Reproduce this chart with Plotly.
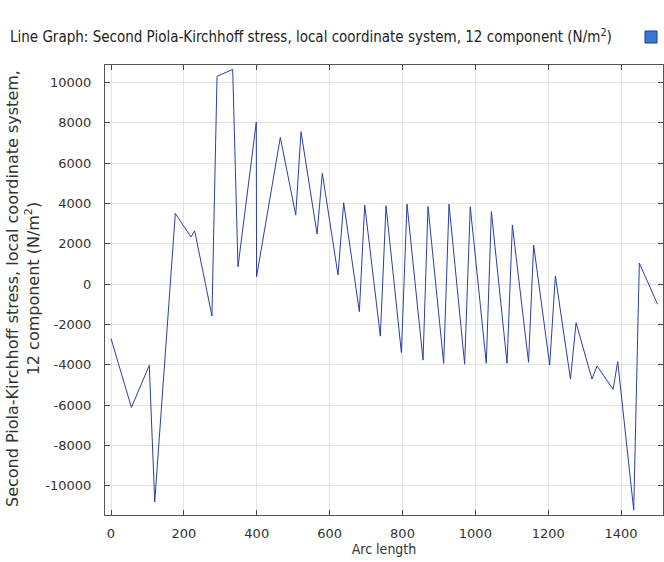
import plotly.graph_objects as go

arc_length = [0, 56, 105, 120, 176.5, 219.5, 229.6, 277, 291, 334, 348.5, 398.8, 399.5,
              464.7, 507, 521.5, 565.5, 580, 623, 638.6, 681.6, 696.3, 739.2, 754.8, 797,
              812.4, 856.4, 870, 913, 927.7, 970.6, 986, 1030, 1044, 1087, 1101.6, 1146,
              1160, 1204, 1219.6, 1261, 1276.4, 1320, 1334, 1378, 1390.7, 1434.6, 1450, 1500]
stress_12 = [-2700, -6120, -4030, -10800, 3500, 2330, 2640, -1580, 10300, 10640, 860, 8030, 360,
             7270, 3420, 7550, 2480, 5490, 450, 4030, -1370, 3920, -2580, 3880, -3400,
             3960, -3770, 3840, -3930, 3960, -3970, 3830, -3930, 3590, -3930, 2930, -3880,
             1930, -4020, 400, -4710, -1920, -4710, -4060, -5220, -3840, -11200, 1040, -1000]

x_ticks = [0, 200, 400, 600, 800, 1000, 1200, 1400]
x_tick_labels = ["0", "200", "400", "600", "800", "1000", "1200", "1400"]
y_ticks = [-10000, -8000, -6000, -4000, -2000, 0, 2000, 4000, 6000, 8000, 10000]
y_tick_labels = ["-10000", "-8000", "-6000", "-4000", "-2000", "0",
                 "2000", "4000", "6000", "8000", "10000"]

title_text = "Line Graph: Second Piola-Kirchhoff stress, local coordinate system, 12 component (N/m<sup>2</sup>)"
ytitle_text = "Second Piola-Kirchhoff stress, local coordinate system,<br>12 component (N/m<sup>2</sup>)"
xtitle_text = "Arc length"

W, H = 664, 562
L, R, T, B = 105, 1, 65, 47

fig = go.Figure()
fig.add_trace(go.Scatter(x=arc_length, y=stress_12, mode="lines",
                         line=dict(color="#2a3fa8", width=1), showlegend=False,
                         hoverinfo="x+y"))

axis_common = dict(showline=True, linecolor="#555555", linewidth=1, mirror="ticks",
                   ticks="inside", ticklen=5, tickcolor="#444444", tickwidth=1,
                   showgrid=True, gridcolor="#e3e3e3", gridwidth=1, zeroline=False,
                   tickfont=dict(family="DejaVu Sans", size=13, color="#333333"))

fig.update_xaxes(range=[-16.5, 1515], tickvals=x_ticks, ticktext=x_tick_labels,
                 ticklabelstandoff=6, **axis_common,
                 title=dict(text=xtitle_text, standoff=2,
                            font=dict(family="DejaVu Sans Condensed", size=14, color="#333333")))
fig.update_yaxes(range=[-11450, 10860], tickvals=y_ticks, ticktext=y_tick_labels,
                 ticklabelstandoff=10, **axis_common)

fig.add_annotation(text=ytitle_text, xref="paper", yref="paper",
                   x=(23 - L) / (W - L - R), y=(515 - 289) / (H - T - B),
                   xanchor="center", yanchor="middle",
                   textangle=-90, showarrow=False, align="center",
                   font=dict(family="DejaVu Sans", size=16, color="#333333"))

# small app icon at top right
fig.add_shape(type="rect", xref="paper", yref="paper",
              x0=(645 - L) / (W - L - R), x1=(657 - L) / (W - L - R),
              y0=1 + (T - 43) / (H - T - B), y1=1 + (T - 31) / (H - T - B),
              line=dict(color="#1a3c8c", width=1), fillcolor="#3a78d8")

fig.update_layout(
    width=W, height=H,
    margin=dict(l=L, r=R, t=T, b=B),
    paper_bgcolor="white", plot_bgcolor="white",
    title=dict(text=title_text, xref="container", yref="container",
               x=10 / W, xanchor="left", y=1 - 37 / H, yanchor="middle",
               font=dict(family="DejaVu Sans Condensed", size=15, color="#222222")),
)

fig.write_html("out.html")
